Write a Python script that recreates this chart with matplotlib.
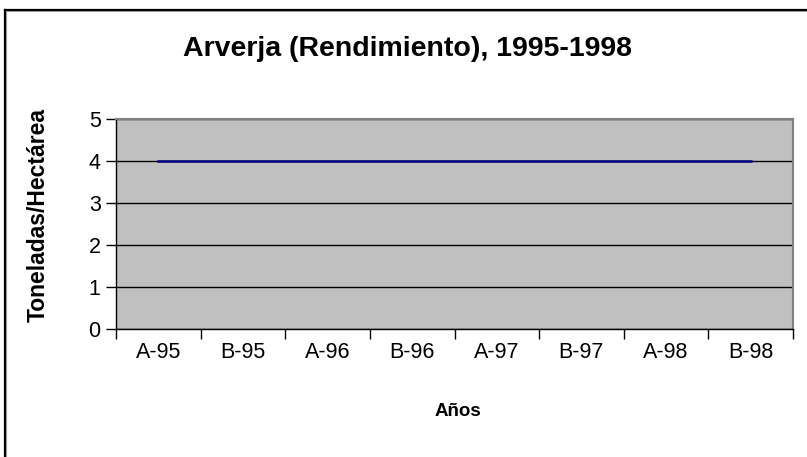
import matplotlib.pyplot as plt
from matplotlib.lines import Line2D

# datos
periodos = ["A-95", "B-95", "A-96", "B-96", "A-97", "B-97", "A-98", "B-98"]
rendimiento = [4, 4, 4, 4, 4, 4, 4, 4]
y_ticks = [0, 1, 2, 3, 4, 5]

plt.rcParams['font.family'] = ['Liberation Sans', 'DejaVu Sans']

fig = plt.figure(figsize=(8.07, 4.57), dpi=100)
W, H = 807, 457

# marco exterior (solo borde izquierdo y superior visibles)
fig.add_artist(Line2D([4.5 / W, 4.5 / W], [0, 1 - 9.5 / H], color='black', lw=1.6))
fig.add_artist(Line2D([4.5 / W, 1], [1 - 9.5 / H, 1 - 9.5 / H], color='black', lw=1.6))
fig.add_artist(Line2D([6 / W, 6 / W], [0, 1 - 11 / H], color='#999999', lw=0.8))
fig.add_artist(Line2D([6 / W, 1], [1 - 11 / H, 1 - 11 / H], color='#999999', lw=0.8))

left, right, top, bottom = 116, 793, 119, 329
ax = fig.add_axes([left / W, 1 - bottom / H, (right - left) / W, (bottom - top) / H])
ax.set_facecolor('#C0C0C0')

x = range(len(periodos))
ax.plot(x, rendimiento, color='#000080', lw=1.8, zorder=3)

ax.set_xlim(-0.5, len(periodos) - 0.5)
ax.set_ylim(0, 5)
ax.set_yticks(y_ticks)
ax.set_yticklabels([str(v) for v in y_ticks], fontsize=15.5)
ax.set_xticks([i - 0.5 for i in range(len(periodos) + 1)])
ax.set_xticklabels([])
ax.set_xticks(list(x), minor=True)
ax.set_xticklabels(periodos, minor=True, fontsize=15.5)
ax.tick_params(axis='x', which='major', direction='out', length=7, width=1, color='black')
ax.tick_params(axis='x', which='minor', length=0, pad=9)
ax.tick_params(axis='y', direction='out', length=7, width=1, pad=4)

ax.yaxis.grid(True, color='black', lw=1)
ax.set_axisbelow(True)

for s in ['left', 'bottom']:
    ax.spines[s].set_color('black')
    ax.spines[s].set_linewidth(1)
for s in ['top', 'right']:
    ax.spines[s].set_color('#808080')
    ax.spines[s].set_linewidth(1.5)

fig.text(38 / W, 1 - 215 / H, "Toneladas/Hectárea", fontsize=16.5, fontweight='bold',
         rotation=90, ha='center', va='center')
fig.text(458 / W, 1 - 411 / H, "Años", fontsize=13.5, fontweight='bold',
         ha='center', va='center')

fig.text(408 / W, 1 - 49 / H, "Arverja (Rendimiento), 1995-1998",
         fontsize=20.5, fontweight='bold', ha='center', va='center')

fig.savefig("out.png", dpi=100)
